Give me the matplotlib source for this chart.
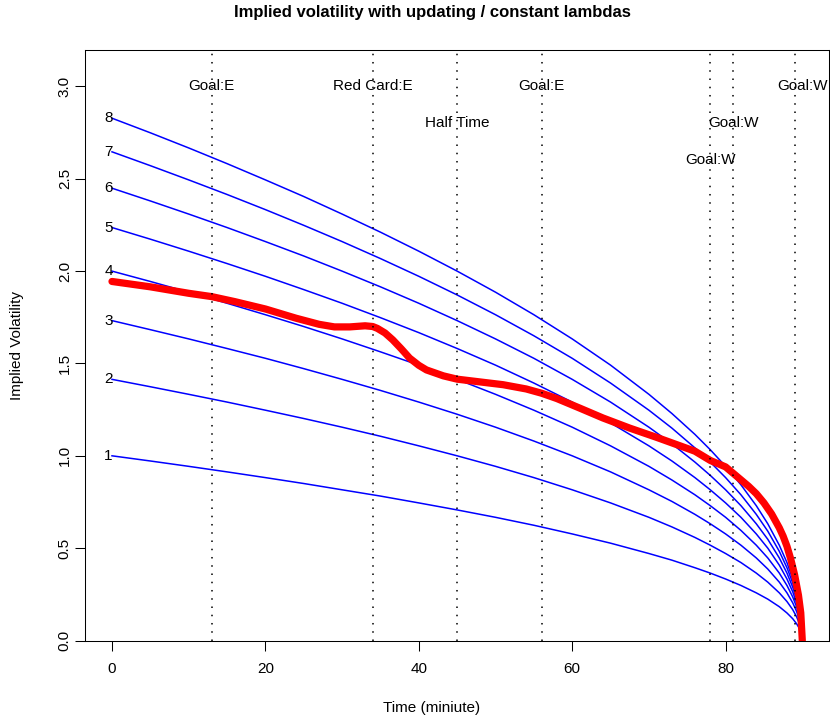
import numpy as np
import matplotlib
matplotlib.use('Agg')
import matplotlib.pyplot as plt

plt.rcParams['font.family'] = ['Liberation Sans', 'DejaVu Sans']

# time grid (minutes) at which the constant-lambda curves were read
times = [0, 5, 10, 15, 20, 25, 30, 35, 40, 45, 50, 55, 60, 65, 70, 73, 76, 78, 80, 82, 84,
         85.5, 87, 88, 88.75, 89.25, 89.6, 89.85, 90]

lam1 = [1.000, 0.972, 0.943, 0.913, 0.882, 0.850, 0.816, 0.782, 0.745, 0.707, 0.667, 0.624, 0.577, 0.527, 0.471,
        0.435, 0.394, 0.365, 0.333, 0.298, 0.258, 0.224, 0.183, 0.149, 0.118, 0.091, 0.067, 0.041, 0.0]
lam2 = [1.414, 1.374, 1.333, 1.291, 1.247, 1.202, 1.155, 1.106, 1.054, 1.000, 0.943, 0.882, 0.816, 0.745, 0.667,
        0.615, 0.558, 0.516, 0.471, 0.422, 0.365, 0.316, 0.258, 0.211, 0.167, 0.129, 0.094, 0.058, 0.0]
lam3 = [1.732, 1.683, 1.633, 1.581, 1.528, 1.472, 1.414, 1.354, 1.291, 1.225, 1.155, 1.080, 1.000, 0.913, 0.816,
        0.753, 0.683, 0.632, 0.577, 0.516, 0.447, 0.387, 0.316, 0.258, 0.204, 0.158, 0.116, 0.071, 0.0]
lam4 = [2.000, 1.944, 1.886, 1.826, 1.764, 1.700, 1.633, 1.563, 1.491, 1.414, 1.333, 1.247, 1.155, 1.054, 0.943,
        0.869, 0.789, 0.730, 0.667, 0.596, 0.516, 0.447, 0.365, 0.298, 0.236, 0.183, 0.133, 0.082, 0.0]
lam5 = [2.236, 2.173, 2.108, 2.041, 1.972, 1.900, 1.826, 1.748, 1.667, 1.581, 1.491, 1.394, 1.291, 1.178, 1.054,
        0.972, 0.882, 0.816, 0.745, 0.667, 0.577, 0.500, 0.408, 0.333, 0.264, 0.204, 0.149, 0.091, 0.0]
lam6 = [2.449, 2.380, 2.309, 2.236, 2.160, 2.082, 2.000, 1.915, 1.826, 1.732, 1.633, 1.528, 1.414, 1.291, 1.155,
        1.065, 0.966, 0.894, 0.816, 0.730, 0.632, 0.548, 0.447, 0.365, 0.289, 0.224, 0.163, 0.100, 0.0]
lam7 = [2.646, 2.571, 2.494, 2.415, 2.333, 2.248, 2.160, 2.068, 1.972, 1.871, 1.764, 1.650, 1.528, 1.394, 1.247,
        1.150, 1.043, 0.966, 0.882, 0.789, 0.683, 0.592, 0.483, 0.394, 0.312, 0.242, 0.176, 0.108, 0.0]
lam8 = [2.828, 2.749, 2.667, 2.582, 2.494, 2.404, 2.309, 2.211, 2.108, 2.000, 1.886, 1.764, 1.633, 1.491, 1.333,
        1.229, 1.116, 1.033, 0.943, 0.843, 0.730, 0.632, 0.516, 0.422, 0.333, 0.258, 0.189, 0.115, 0.0]
lambda_labels = ['1', '2', '3', '4', '5', '6', '7', '8']

# updating-lambda implied volatility (red)
upd_t = [0, 5, 10, 13, 16, 20, 24, 27, 29, 31, 33, 34, 34.6, 35.6, 36.6, 37.7, 38.8, 40, 41,
         43.2, 45, 48, 51, 54, 56, 58, 61, 64, 67.5, 71, 74, 76, 78, 80, 81, 82, 83, 84, 85,
         86, 87, 87.5, 88, 88.5, 89, 89.5, 89.8, 90]
upd_vol = [1.944, 1.915, 1.880, 1.862, 1.835, 1.795, 1.745, 1.712, 1.698, 1.698, 1.704, 1.700,
           1.690, 1.665, 1.628, 1.580, 1.529, 1.490, 1.465, 1.433, 1.415, 1.400, 1.385, 1.362,
           1.339, 1.310, 1.258, 1.205, 1.150, 1.100, 1.055, 1.025, 0.975, 0.940, 0.905, 0.870,
           0.835, 0.795, 0.745, 0.685, 0.610, 0.565, 0.510, 0.440, 0.355, 0.245, 0.150, 0.0]

# match events
event_t = [13, 34, 45, 56, 78, 81, 89]
event_label = ['Goal:E', 'Red Card:E', 'Half Time', 'Goal:E', 'Goal:W', 'Goal:W', 'Goal:W']
label_t = [13, 34, 45, 56, 78, 81, 90]
label_y = [3.0, 3.0, 2.8, 3.0, 2.6, 2.8, 3.0]

W, H = 830, 723
fig = plt.figure(figsize=(W / 100, H / 100), dpi=100)
ax = fig.add_axes([85.3 / W, (H - 640.5) / H, (829.3 - 85.3) / W, (640.5 - 49.5) / H])

curves = [lam1, lam2, lam3, lam4, lam5, lam6, lam7, lam8]
for lab, vol in zip(lambda_labels, curves):
    ax.plot(times, vol, color='#0000ff', lw=1.1)
    ax.text(times[0] + 0.1, vol[0], lab, ha='right', va='center', fontsize=11)

ax.plot(upd_t, upd_vol, color='#ff0000', lw=5.2, solid_capstyle='round', solid_joinstyle='round')

for t in event_t:
    ax.axvline(t, color='black', lw=1.1, linestyle=(0, (1, 4.4)))
for t, y, s in zip(label_t, label_y, event_label):
    ax.text(t, y, s, ha='center', va='center', fontsize=11)

ax.set_xlim(-3.48, 93.52)
ax.set_ylim(0, 3.2)
ax.set_xticks([0, 20, 40, 60, 80])
ax.set_yticks(np.arange(0, 3.01, 0.5))
ax.set_yticklabels(['%.1f' % v for v in np.arange(0, 3.01, 0.5)], rotation=90, va='center')
ax.tick_params(axis='both', length=7.2, width=0.75, labelsize=11)
ax.tick_params(axis='x', pad=8.5)
ax.tick_params(axis='y', pad=2.5)
for sp in ax.spines.values():
    sp.set_linewidth(0.75)

fig.text(432 / W, 1 - 12 / H, 'Implied volatility with updating / constant lambdas',
         ha='center', va='center', fontsize=12, fontweight='bold')
fig.text(432 / W, 1 - 708 / H, 'Time (miniute)', ha='center', va='center', fontsize=11)
fig.text(17.5 / W, 1 - 345 / H, 'Implied Volatility', ha='center', va='center',
         rotation=90, fontsize=11)

plt.savefig('out.png', dpi=100)
